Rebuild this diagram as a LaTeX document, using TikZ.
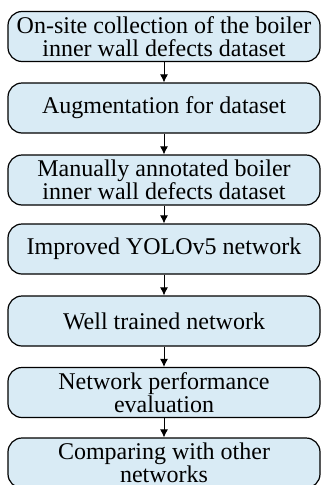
\documentclass[tikz,border=0pt]{standalone}
\usepackage{fontspec}
\setmainfont{Liberation Serif}
\usepackage{tikz}
\usetikzlibrary{arrows.meta}
\definecolor{boxblue}{RGB}{217, 235, 245}

\begin{document}
\begin{tikzpicture}[x=1pt, y=-1pt,
  stage/.style={draw, line width=1.2pt, rounded corners=14pt, fill=boxblue,
    minimum width=312pt, minimum height=50pt, inner xsep=0pt, inner ysep=-4pt,
    align=center, font=\fontsize{24}{23}\selectfont},
  flow/.style={line width=1pt, -{Latex[length=8pt, width=8pt]}}]
% Page frame
\clip (0,0) rectangle (323,485);
\fill[white] (0,0) rectangle (323,485);

% Stages
\node[stage] (collect) at (164,36.5) {On-site collection of the boiler\\inner wall defects dataset};
\node[stage] (augment) at (164,108) {Augmentation for dataset};
\node[stage] (annotate) at (164,180) {Manually annotated boiler\\inner wall defects dataset};
\node[stage] (yolo) at (164,249) {Improved YOLOv5 network};
\node[stage] (trained) at (164,321) {Well trained network};
\node[stage] (evaluate) at (164,392.5) {Network performance\\evaluation};
\node[stage] (compare) at (164,463) {Comparing with other\\networks};

% Arrows
\draw[flow] (collect) -- (augment);
\draw[flow] (augment) -- (annotate);
\draw[flow] (annotate) -- (yolo);
\draw[flow] (yolo) -- (trained);
\draw[flow] (trained) -- (evaluate);
\draw[flow] (evaluate) -- (compare);
\end{tikzpicture}
\end{document}
